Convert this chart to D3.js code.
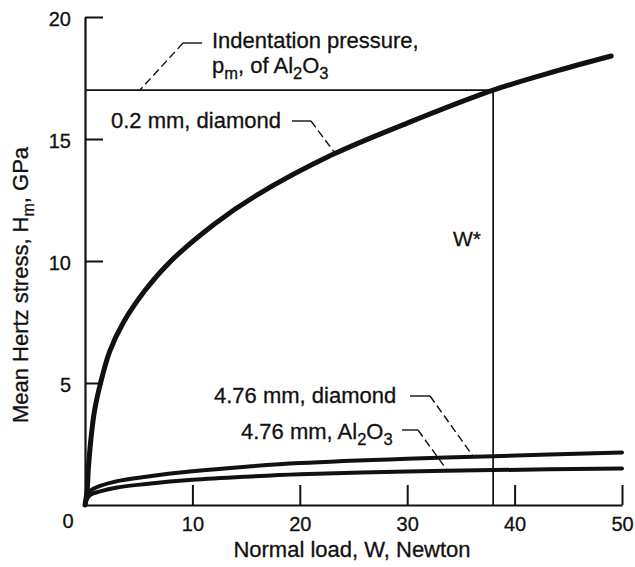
<!DOCTYPE html>
<html>
<head>
<meta charset="utf-8">
<script src="https://cdn.jsdelivr.net/npm/d3@7"></script>
<style>
body { margin: 0; background: #fff; }
text { font-family: "Liberation Sans", Arial, Helvetica, sans-serif; fill: #111; stroke: #111; stroke-width: 0.3px; }
</style>
</head>
<body>
<svg width="635" height="567"></svg>
<script>
// values
const loadSmallDiamond = [0, 0.2, 0.3, 0.55, 0.9, 1.45, 2.3, 3.6, 5.6, 8, 12, 16, 23, 30, 38, 44, 49];
const stressSmallDiamond = [0, 0.6, 1.4, 2.7, 3.9, 5.0, 6.3, 7.5, 8.8, 10.0, 11.5, 12.7, 14.35, 15.65, 17.0, 17.8, 18.4];
const loadLarge = [0, 0.2, 0.5, 1.4, 3, 5.7, 10, 15, 20, 30, 38, 50];
const stressLargeDiamond = [0, 0.38, 0.58, 0.78, 0.98, 1.16, 1.38, 1.57, 1.72, 1.9, 2.0, 2.15];
const stressLargeAl2O3 = [0, 0.26, 0.42, 0.56, 0.72, 0.86, 1.03, 1.16, 1.26, 1.37, 1.43, 1.5];
const xTicks = [10, 20, 30, 40, 50];
const yTicks = [5, 10, 15, 20];
const indentPressure = 17;   // p_m of Al2O3, GPa
const criticalLoad = 38;     // W*

const svg = d3.select("svg");
const x = d3.scaleLinear().domain([0, 50]).range([85, 622]);
const y = d3.scaleLinear().domain([0, 20]).range([505, 17]);

// axes
const xAxis = d3.axisBottom(x).tickValues(xTicks).tickSize(-20).tickPadding(28).tickSizeOuter(0);
const yAxis = d3.axisLeft(y).tickValues(yTicks).tickSize(-18).tickPadding(14).tickSizeOuter(0);

const gx = svg.append("g").attr("transform", "translate(0," + y(0) + ")").call(xAxis);
const gy = svg.append("g").attr("transform", "translate(" + x(0) + ",0)").call(yAxis);
[gx, gy].forEach(function(g) {
	g.select(".domain").attr("stroke", "#111").attr("stroke-width", 2.2);
	g.selectAll(".tick line").attr("stroke", "#111").attr("stroke-width", 2);
	g.selectAll(".tick text").attr("font-size", 20).attr("fill", "#111")
		.attr("font-family", "Liberation Sans, Arial, sans-serif");
});
gx.selectAll(".tick text").attr("dy", "-0.1em");
gy.selectAll(".tick text").attr("dy", "0.4em");
// corner zero
svg.append("text").attr("x", x(0) - 17).attr("y", 528).attr("text-anchor", "middle")
	.attr("font-size", 20).text("0");

// reference lines: p_m and W*
svg.append("line")
	.attr("x1", x(0)).attr("x2", x(criticalLoad)).attr("y1", y(indentPressure)).attr("y2", y(indentPressure))
	.attr("stroke", "#111").attr("stroke-width", 1.7);
svg.append("line")
	.attr("x1", x(criticalLoad)).attr("x2", x(criticalLoad)).attr("y1", y(indentPressure)).attr("y2", y(0))
	.attr("stroke", "#111").attr("stroke-width", 1.7);

// curves
const line = d3.line()
	.x(function(d) { return x(d[0]); })
	.y(function(d) { return y(d[1]); })
	.curve(d3.curveCatmullRom.alpha(0.5));

function drawCurve(xs, ys, width) {
	svg.append("path")
		.datum(xs.map(function(v, i) { return [v, ys[i]]; }))
		.attr("d", line)
		.attr("fill", "none")
		.attr("stroke", "#111")
		.attr("stroke-width", width)
		.attr("stroke-linecap", "round");
}
drawCurve(loadSmallDiamond, stressSmallDiamond, 5);
drawCurve(loadLarge, stressLargeDiamond, 4);
drawCurve(loadLarge, stressLargeAl2O3, 4);

// leader lines: short solid piece, then dashed run from its end to the curve
function leader(sx1, sx2, sy, dashFrom, target) {
	svg.append("line").attr("x1", sx1).attr("x2", sx2).attr("y1", sy).attr("y2", sy)
		.attr("stroke", "#111").attr("stroke-width", 1.4);
	svg.append("line").attr("x1", dashFrom).attr("y1", sy)
		.attr("x2", x(target[0])).attr("y2", y(target[1]))
		.attr("stroke", "#111").attr("stroke-width", 1.4).attr("stroke-dasharray", "8,4");
}
leader(183, 202, 43, 183, [5.1, indentPressure]);
leader(292, 311, 121, 311, [23.3, 14.4]);
leader(410, 430, 396, 430, [36.1, 2.02]);
leader(402, 418, 430, 418, [33.7, 1.43]);

// labels
function label(px, py, parts, size) {
	const t = svg.append("text").attr("x", px).attr("y", py).attr("font-size", size);
	parts.forEach(function(p) {
		const s = t.append("tspan").text(p[0]);
		if (p[1] == "sub") {
			s.attr("dy", 6).attr("font-size", size * 0.75);
		} else if (p[1] == "up") {
			s.attr("dy", -6);
		}
	});
	return t;
}
label(212, 48, [["Indentation pressure,"]], 22);
label(212, 73, [["p"], ["m", "sub"], [", of Al", "up"], ["2", "sub"], ["O", "up"], ["3", "sub"]], 22);
label(111, 128, [["0.2 mm, diamond"]], 22);
svg.append("text").attr("x", 453).attr("y", 246).attr("font-size", 21).text("W*");
label(214, 403, [["4.76 mm, diamond"]], 22);
label(241, 439, [["4.76 mm, Al"], ["2", "sub"], ["O", "up"], ["3", "sub"]], 22);

// axis titles
svg.append("text").attr("x", 352).attr("y", 557).attr("text-anchor", "middle")
	.attr("font-size", 22).text("Normal load, W, Newton");
const yt = svg.append("text").attr("transform", "translate(28,285) rotate(-90)")
	.attr("text-anchor", "middle").attr("font-size", 22);
yt.append("tspan").text("Mean Hertz stress, H");
yt.append("tspan").attr("dy", 6).attr("font-size", 16).text("m");
yt.append("tspan").attr("dy", -6).text(", GPa");
</script>
</body>
</html>
